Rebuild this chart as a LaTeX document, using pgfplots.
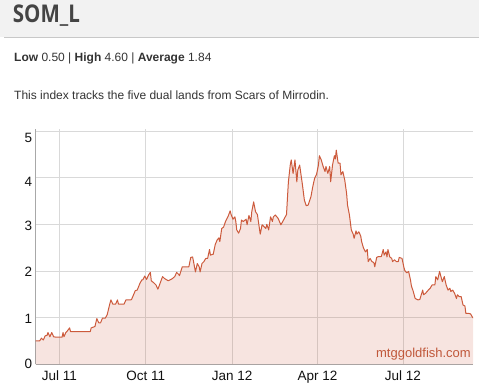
\documentclass[border=0pt]{standalone}
\usepackage{pgfplots}
\pgfplotsset{compat=1.18}
\usepackage{pgfplotstable}
\usepackage{fontspec}
\setmainfont{Liberation Sans}
\newfontfamily\titlefont{Open Sans}
\definecolor{linec}{HTML}{CC5A3C}
\definecolor{headgray}{HTML}{F2F2F2}
\definecolor{headline}{HTML}{C8C8C8}
\definecolor{textc}{HTML}{333333}
\definecolor{titlec}{HTML}{444444}
\definecolor{gridgray}{HTML}{D9D9D9}
\definecolor{axisgray}{HTML}{A8A8A8}
\definecolor{labelc}{HTML}{111111}
\definecolor{markc}{HTML}{C0573A}

\pgfplotstableread{
d v
-26 0.50
-21 0.50
-19 0.56
-17 0.52
-15 0.61
-13 0.62
-12 0.68
-10 0.59
-8 0.68
-6 0.59
-3 0.58
3 0.58
4 0.68
5 0.59
7 0.68
8 0.70
11 0.78
12 0.70
33 0.70
34 0.78
38 0.81
40 0.98
42 0.89
44 0.89
46 0.99
49 0.99
51 1.06
54 1.31
55 1.38
57 1.29
60 1.29
62 1.38
63 1.29
69 1.29
71 1.38
76 1.38
77 1.39
81 1.58
83 1.59
86 1.74
88 1.81
89 1.81
91 1.89
93 1.82
95 1.91
97 1.97
98 1.79
101 1.74
103 1.70
105 1.61
106 1.66
108 1.77
110 1.88
112 1.84
116 1.79
120 1.83
123 1.88
125 1.97
127 1.93
128 1.90
131 2.09
136 2.09
138 2.09
140 2.29
142 2.30
143 2.20
145 1.98
147 2.16
149 2.09
150 1.98
152 2.16
154 2.20
156 2.27
158 2.27
160 2.46
161 2.34
164 2.36
166 2.56
168 2.66
170 2.71
171 2.63
173 2.91
175 2.94
177 3.06
180 3.18
182 3.29
183 3.21
185 3.11
187 3.16
188 3.06
189 2.88
191 2.81
193 2.91
194 3.09
196 3.06
199 3.11
200 2.99
202 3.19
204 3.06
205 3.27
207 3.48
209 3.27
211 3.21
212 3.07
214 2.79
216 2.99
218 2.95
220 2.91
221 3.00
223 2.88
225 3.16
227 3.06
228 3.16
230 3.20
233 3.13
236 2.99
238 3.06
242 3.21
244 3.91
246 4.27
247 4.38
249 4.09
251 4.38
253 3.91
254 4.16
256 4.27
259 3.84
261 3.52
263 3.40
265 3.41
268 3.59
270 3.81
272 3.99
274 4.07
276 4.27
277 4.47
279 4.38
281 4.24
283 4.13
284 4.24
286 4.09
288 4.24
289 3.91
291 4.27
293 4.47
294 4.40
295 4.59
297 4.31
299 4.31
300 4.06
302 4.13
304 3.95
306 3.66
307 3.41
309 3.20
311 2.88
313 2.79
314 2.70
316 2.86
317 2.79
319 2.84
321 2.75
322 2.63
324 2.49
326 2.41
328 2.46
329 2.20
331 2.27
333 2.20
335 2.18
336 2.09
338 2.29
340 2.31
343 2.31
345 2.46
346 2.34
348 2.41
349 2.30
350 2.46
352 2.30
354 2.27
355 2.20
357 2.24
359 2.20
361 2.20
362 2.29
365 2.27
367 2.08
368 2.01
370 1.96
372 1.99
374 1.81
375 1.68
377 1.56
379 1.41
382 1.38
384 1.39
387 1.59
388 1.49
390 1.52
393 1.59
395 1.63
397 1.70
400 1.70
401 1.88
403 1.81
405 1.99
407 1.84
408 1.77
410 1.88
412 1.70
414 1.59
416 1.63
417 1.56
419 1.59
421 1.52
423 1.41
424 1.49
426 1.45
428 1.45
430 1.27
432 1.25
433 1.09
436 1.09
438 1.08
440 1.01
441 0.99
}\somdata

\begin{document}
\begin{tikzpicture}[x=1pt,y=1pt]
\path[use as bounding box] (0,0) rectangle (479,388);
\fill[headgray] (0,350.5) rectangle (479,388);
\draw[headline, line width=1pt] (4,350.5) -- (479,350.5);
\node[anchor=base west, inner sep=0, text=titlec] at (12.7,365.3)
  {\resizebox{67pt}{17.7pt}{\titlefont\bfseries SOM\_L}};
\node[anchor=base west, inner sep=0, text=textc, font=\fontsize{12}{14}\selectfont] at (14,326.7)
  {\textbf{Low} 0.50 | \textbf{High} 4.60 | \textbf{Average} 1.84};
\node[anchor=base west, inner sep=0, text=textc, font=\fontsize{12}{14}\selectfont] at (14,288.2)
  {This index tracks the five dual lands from Scars of Mirrodin.};
\begin{axis}[
  at={(35.7pt,23.7pt)}, anchor=south west,
  scale only axis, width=437.3pt, height=235pt,
  xmin=-25.1, xmax=440.6, ymin=0, ymax=5.036,
  axis x line*=bottom, axis y line*=left,
  axis line style={draw=axisgray, line width=1pt},
  xtick={0,92,184,275,366},
  xticklabels={Jul 11,Oct 11,Jan 12,Apr 12,Jul 12},
  ytick={0,1,2,3,4,5}, yticklabels={},
  extra y ticks={0,0.98,1.98,2.97,3.91,4.85},
  extra y tick labels={\raisebox{-2.4pt}{0},1,2,3,4,5},
  extra y tick style={grid=none},
  grid=major, major grid style={draw=gridgray, line width=0.8pt},
  major tick length=0pt,
  tick label style={font=\fontsize{13.5}{14}\selectfont, text=labelc},
  xticklabel style={yshift=-3pt},
  /pgf/number format/assume math mode=true,
]
\addplot[draw=none, fill=linec, fill opacity=0.16] table[x=d,y=v] {\somdata} \closedcycle;
\addplot[linec, line width=1pt, line join=round] table[x=d,y=v] {\somdata};
\end{axis}
\node[anchor=east, inner sep=0, text=markc, font=\fontsize{13}{14}\selectfont] at (471,34) {mtggoldfish.com};
\end{tikzpicture}
\end{document}
